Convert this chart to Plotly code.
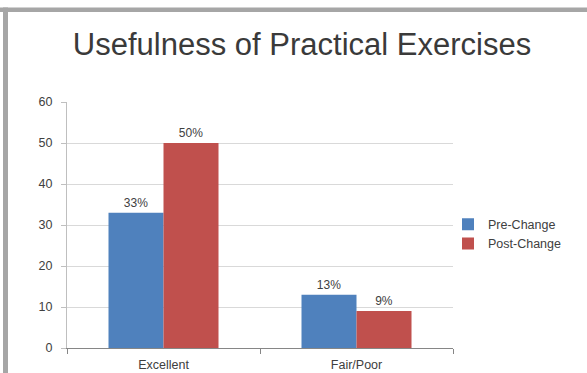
import plotly.graph_objects as go

categories = ["Excellent", "Fair/Poor"]
pre_change = [33, 13]
post_change = [50, 9]
pre_labels = ["33%", "13%"]
post_labels = ["50%", "9%"]
series_names = ["Pre-Change", "Post-Change"]
y_ticks = [0, 10, 20, 30, 40, 50, 60]

W, H = 587, 373
L, R, T, B = 67, 134, 102, 25
PW, PH = W - L - R, H - T - B


def px_x(p):
    return (p - L) / PW


def px_y(p):
    return (H - B - p) / PH


FONT = "Liberation Sans, Arial, sans-serif"
label_font = dict(family=FONT, size=12, color="#404040")
tick_font = dict(family=FONT, size=12.5, color="#404040")

fig = go.Figure()
fig.add_trace(go.Bar(
    x=categories, y=pre_change, name=series_names[0],
    marker=dict(color="#4F81BD", line=dict(width=0)),
    text=pre_labels, textposition="outside", textfont=label_font,
    cliponaxis=False,
))
fig.add_trace(go.Bar(
    x=categories, y=post_change, name=series_names[1],
    marker=dict(color="#C0504D", line=dict(width=0)),
    text=post_labels, textposition="outside", textfont=label_font,
    cliponaxis=False,
))

border = "#a6a6a6"
shapes = [
    dict(type="rect", xref="paper", yref="paper",
         x0=px_x(0), x1=px_x(W), y0=px_y(12), y1=px_y(7.5),
         fillcolor=border, line=dict(width=0), layer="above"),
    dict(type="rect", xref="paper", yref="paper",
         x0=px_x(3), x1=px_x(8), y0=px_y(H), y1=px_y(7.5),
         fillcolor=border, line=dict(width=0), layer="above"),
]

fig.update_layout(
    width=W, height=H,
    margin=dict(l=L, r=R, t=T, b=B, pad=0, autoexpand=False),
    paper_bgcolor="white", plot_bgcolor="white",
    barmode="group", bargap=0.43, bargroupgap=0,
    title=dict(
        text="Usefulness of Practical Exercises",
        x=302 / W, xanchor="center", xref="container",
        y=1 - 44 / H, yanchor="middle", yref="container",
        font=dict(family=FONT, size=31, color="#3a3a3a"),
    ),
    showlegend=True,
    legend=dict(
        x=px_x(448), xanchor="left", y=px_y(234), yanchor="middle",
        font=dict(family=FONT, size=12.5, color="#404040"),
        bgcolor="rgba(0,0,0,0)", itemwidth=30,
    ),
    xaxis=dict(
        type="category", showgrid=False, automargin=False,
        showline=True, linecolor="#868686", linewidth=1,
        ticks="outside", tickson="boundaries", ticklen=5, tickcolor="#868686",
        tickfont=tick_font, ticklabelstandoff=5,
    ),
    yaxis=dict(
        range=[0, 60], tickvals=y_ticks, showgrid=True, gridcolor="#d9d9d9", gridwidth=1,
        showline=True, linecolor="#bfbfbf", linewidth=1, automargin=False,
        ticks="outside", ticklen=5, tickcolor="#bfbfbf",
        tickfont=tick_font, zeroline=False, ticklabelstandoff=6,
    ),
    shapes=shapes,
)

fig.write_html("out.html")
